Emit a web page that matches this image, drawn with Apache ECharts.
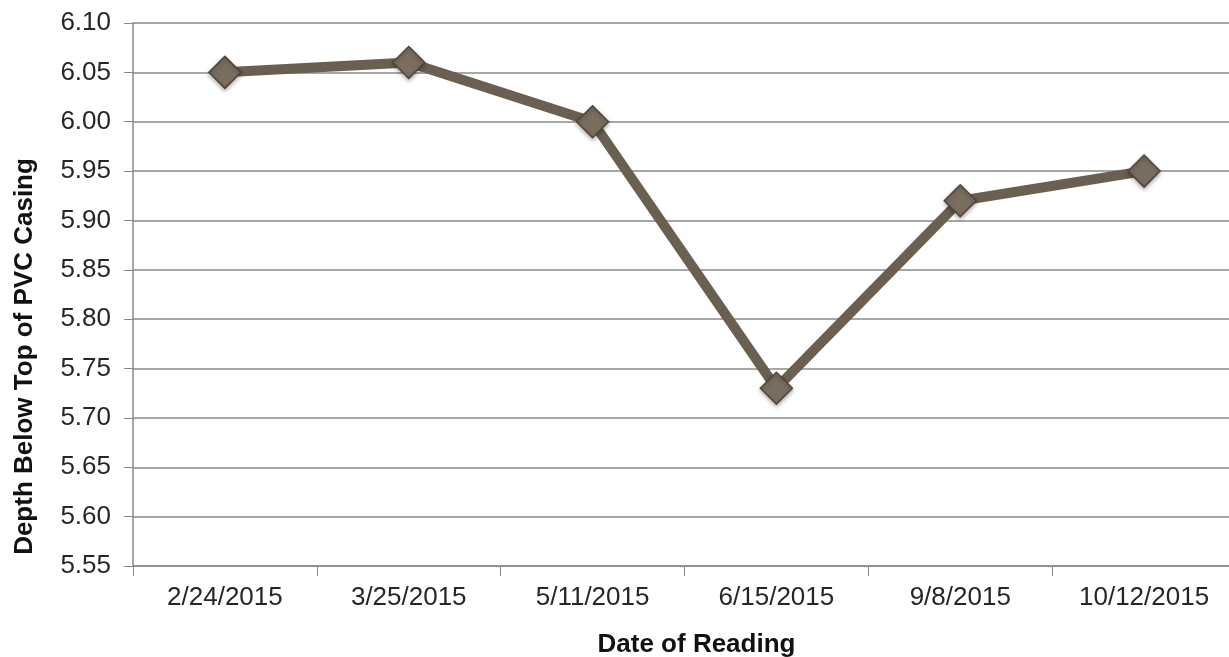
<!DOCTYPE html>
<html>
<head>
<meta charset="utf-8">
<script src="https://cdn.jsdelivr.net/npm/echarts@6/dist/echarts.min.js"></script>
<style>
  html, body { margin: 0; padding: 0; background: #fff; }
  #chart { width: 1229px; height: 657px; }
</style>
</head>
<body>
<div id="chart"></div>
<script>
// dates of the readings
const dates = ['2/24/2015', '3/25/2015', '5/11/2015', '6/15/2015', '9/8/2015', '10/12/2015']
// depth below top of PVC casing
const depths = [6.05, 6.06, 6.00, 5.73, 5.92, 5.95]

const myChart = echarts.init(document.getElementById('chart'))

myChart.setOption({
    animation: false,
    grid: { left: 133, right: -7, top: 23, bottom: 91, containLabel: false, outerBoundsMode: 'none' },
    xAxis: {
        type: 'category',
        data: dates,
        boundaryGap: true,
        name: 'Date of Reading',
        nameLocation: 'middle',
        nameGap: 66,
        nameTextStyle: { fontFamily: 'Liberation Sans', fontSize: 26, fontWeight: 'bold', color: '#111',
                         padding: [0, 0, 0, 24] },
        axisLine: { lineStyle: { color: '#888', width: 1.5 } },
        axisTick: { show: true, length: 10, alignWithLabel: false, lineStyle: { color: '#888' } },
        axisLabel: { fontFamily: 'Liberation Sans', fontSize: 26, color: '#262626', margin: 19 },
        splitLine: { show: false }
    },
    yAxis: {
        type: 'value',
        min: 5.55,
        max: 6.10,
        interval: 0.05,
        name: 'Depth Below Top of PVC Casing',
        nameLocation: 'middle',
        nameGap: 95,
        nameTextStyle: { fontFamily: 'Liberation Sans', fontSize: 26, fontWeight: 'bold', color: '#111',
                         padding: [0, 124, 0, 0] },
        axisLine: { show: true, lineStyle: { color: '#888', width: 1.5 } },
        axisTick: { show: true, length: 9, inside: false, lineStyle: { color: '#888' } },
        axisLabel: {
            fontFamily: 'Liberation Sans', fontSize: 26, color: '#262626', margin: 22,
            formatter: v => v.toFixed(2)
        },
        splitLine: { show: true, lineStyle: { color: '#8a8a8a', width: 1.5 } }
    },
    series: [{
        type: 'line',
        data: depths,
        symbol: 'diamond',
        symbolSize: 32,
        lineStyle: { color: '#6b5f51', width: 10 },
        itemStyle: { color: '#7a6e60', borderColor: '#4e4438', borderWidth: 1.5,
                     shadowColor: 'rgba(0,0,0,0.3)', shadowBlur: 4, shadowOffsetY: 2 }
    }]
})
</script>
</body>
</html>
